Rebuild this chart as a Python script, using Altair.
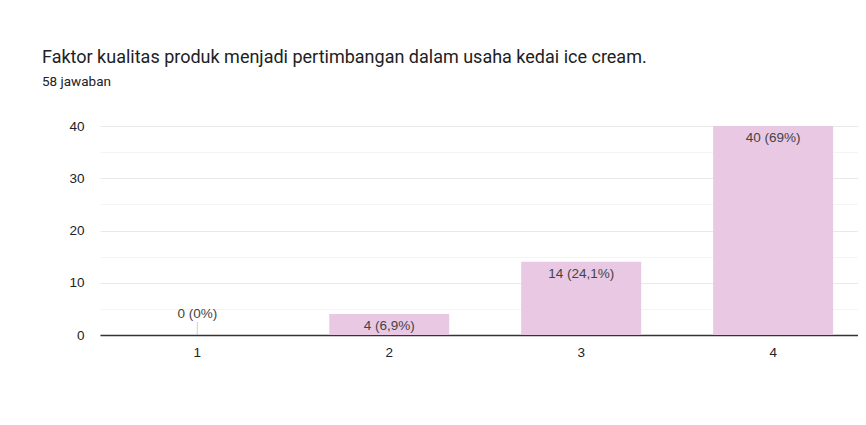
import altair as alt
import pandas as pd

categories = ["1", "2", "3", "4"]
counts = [0, 4, 14, 40]
labels = ["0 (0%)", "4 (6,9%)", "14 (24,1%)", "40 (69%)"]

df = pd.DataFrame({"cat": categories, "count": counts, "label": labels})

BAR = "#e9c8e4"
FONT = "Liberation Sans"

x = alt.X(
    "cat:N",
    sort=categories,
    scale=alt.Scale(paddingInner=0.375, paddingOuter=0.162, align=0.6),
    axis=alt.Axis(
        title=None, labelAngle=0, ticks=False, domainColor="#333333",
        domainWidth=1.3, labelFont=FONT, labelFontSize=13.5, labelColor="#222222",
        labelPadding=10, grid=False,
    ),
)
y = alt.Y(
    "count:Q",
    scale=alt.Scale(domain=[0, 40], nice=False),
    axis=alt.Axis(
        title=None, values=[0, 5, 10, 15, 20, 25, 30, 35, 40], ticks=False, domain=False,
        labelExpr="datum.value % 10 === 0 ? datum.label : ''",
        labelFont=FONT, labelFontSize=13.5, labelColor="#222222", labelPadding=16,
        gridColor={"condition": {"test": "datum.value % 10 === 0", "value": "#e9e9e9"}, "value": "#f4f4f4"},
        gridWidth=1,
    ),
)

base = alt.Chart(df)

bars = base.mark_bar(color=BAR).encode(x=x, y=y)

text_in = base.transform_filter("datum.count > 0").mark_text(
    baseline="top", dy=5, font=FONT, fontSize=13.5, color="#444444"
).encode(x=x, y=y, text="label:N")

text_zero = base.transform_filter("datum.count == 0").mark_text(
    baseline="bottom", dy=-14, font=FONT, fontSize=13.5, color="#444444"
).encode(x=x, y=y, text="label:N")

stem = base.transform_filter("datum.count == 0").mark_tick(
    orient="vertical", size=13, thickness=1, color="#bbbbbb", yOffset=-6.5
).encode(x=x, y=y)

chart = alt.layer(bars, stem, text_in, text_zero).properties(
    width=758,
    height=209,
    autosize=alt.AutoSizeParams(type="none"),
    padding={"left": 92, "top": 118, "right": 0, "bottom": 82},
    title=alt.Title(
        "Faktor kualitas produk menjadi pertimbangan dalam usaha kedai ice cream.",
        subtitle="58 jawaban",
        anchor="start",
        frame="group",
        dx=-58,
        offset=31,
        font="Roboto",
        fontSize=18,
        fontWeight="normal",
        color="#202124",
        subtitleFont="Roboto",
        subtitleFontSize=13.5,
        subtitleColor="#202124",
        subtitlePadding=8,
    ),
).configure_view(stroke=None)

chart.save("out.html", embed_options={"renderer": "svg", "actions": False})
